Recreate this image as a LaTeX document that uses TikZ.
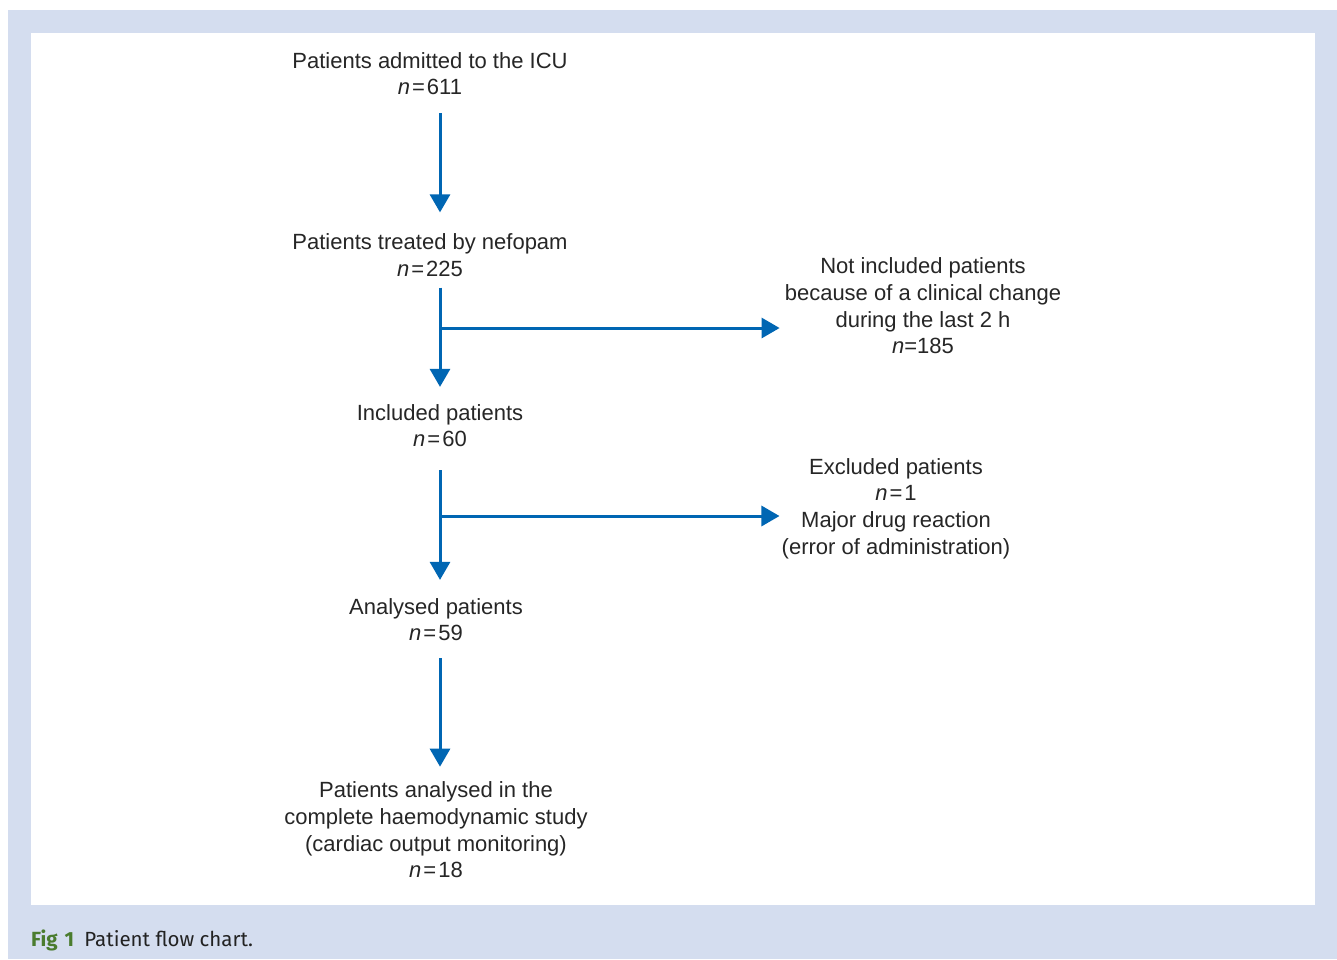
\documentclass[tikz,border=0pt]{standalone}
\usepackage{fontspec}
\setmainfont{Liberation Sans}
\newfontfamily\capfont{Fira Sans}
\usetikzlibrary{arrows.meta}

\definecolor{flowblue}{RGB}{0,102,179}
\definecolor{framebg}{RGB}{212,221,239}
\definecolor{figgreen}{RGB}{74,124,46}
\definecolor{captext}{RGB}{34,34,34}

\tikzset{
  txt/.style = {align = center, inner sep = 0pt, text = black!85,
                font = \fontsize{22}{26.7}\selectfont},
  flow/.style = {draw = flowblue, line width = 3pt,
                 -{Triangle[length = 18pt, width = 20pt]}}
}
\newcommand{\nval}[1]{\textit{n}\kern2pt=\kern2pt#1}

\begin{document}
\begin{tikzpicture}[x = 1pt, y = -1pt]
\useasboundingbox (0, 0) rectangle (1337, 959);
% frame
\fill [framebg] (8, 10) rectangle (1337, 959);
\fill [white] (31, 33) rectangle (1315, 905);
\coordinate (spine) at (440, 0);

% main column
\node [txt] (admit) at (430, 73.5) {Patients admitted to the ICU\\ \nval{611}};
\node [txt] (treated) at (430, 255) {Patients treated by nefopam\\ \nval{225}};
\node [txt] (incl) at (440, 425.5) {Included patients\\ \nval{60}};
\node [txt] (anal) at (436, 619.5) {Analysed patients\\ \nval{59}};
\node [txt] (study) at (436, 830) {Patients analysed in the\\ complete haemodynamic study\\
  (cardiac output monitoring)\\ \nval{18}};

% side boxes
\node [txt] (notinc) at (923, 306) {Not included patients\\ because of a clinical change\\
  during the last 2 h\\ \textit{n}=185};
\node [txt] (excl) at (896, 508.5) {Excluded patients\\ \nval{1}\\ Major drug reaction\\
  (error of administration)};

% arrows down
\draw [flow, shorten <= 18pt, shorten >= 21pt] (admit.south -| spine) -- (treated.north -| spine);
\draw [flow, shorten <= 11pt, shorten >= 17pt] (treated.south -| spine) -- (incl.north -| spine);
\draw [flow, shorten <= 23pt, shorten >= 18pt] (incl.south -| spine) -- (anal.north -| spine);
\draw [flow, shorten <= 17pt, shorten >= 15pt] (anal.south -| spine) -- (study.north -| spine);

% branches
\coordinate (br1) at (440, 328);
\coordinate (br2) at (440, 516);
\draw [flow, shorten >= 5pt] (br1) -- (br1 -| notinc.west);
\draw [flow, shorten >= 2pt] (br2) -- (br2 -| excl.west);

% caption
\node [anchor = base west, inner sep = 0pt, font = \capfont\fontsize{20.5}{22}\selectfont]
  (caption) at (31, 946) {\textcolor{figgreen}{\bfseries Fig\kern7pt 1}\hspace{0.5em}\textcolor{captext}{Patient flow chart.}};
\end{tikzpicture}
\end{document}
